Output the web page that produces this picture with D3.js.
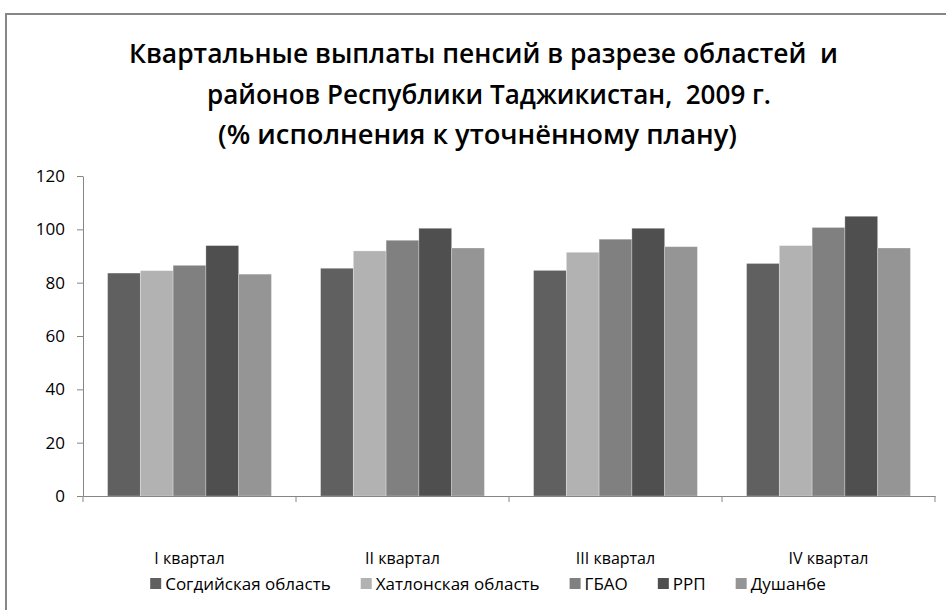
<!DOCTYPE html>
<html><head><meta charset="utf-8">
<script src="https://cdn.jsdelivr.net/npm/d3@7"></script>
<style>body{margin:0;background:#fff}svg{display:block}text{font-family:"Open Sans",sans-serif;fill:#000}</style>
</head><body><svg id="c" width="946" height="610"></svg>
<script>
const categories = ["I квартал", "II квартал", "III квартал", "IV квартал"];
const seriesNames = ["Согдийская область", "Хатлонская область", "ГБАО", "РРП", "Душанбе"];
const seriesColors = ["#606060", "#b2b2b2", "#808080", "#4f4f4f", "#959595"];
const sogd     = [83.6, 85.4, 84.6, 87.2];
const khatlon  = [84.5, 91.9, 91.4, 93.9];
const gbao     = [86.5, 95.9, 96.3, 100.7];
const rrp      = [93.9, 100.4, 100.4, 104.9];
const dushanbe = [83.2, 93.0, 93.5, 93.0];
const yTicks = [0, 20, 40, 60, 80, 100, 120];
const titleLines = ["Квартальные выплаты пенсий в разрезе областей  и", "районов Республики Таджикистан,  2009 г.", "(% исполнения к уточнённому плану)"];

const values = [sogd, khatlon, gbao, rrp, dushanbe];
const svg = d3.select("#c");

// frame
svg.append("rect").attr("x", 6).attr("y", 14).attr("width", 1000).attr("height", 1000)
  .attr("fill", "none").attr("stroke", "#878787").attr("stroke-width", 2);

// title
const titleX = [129, 207, 218], titleW = [709, 564, 519], titleY = [63, 104, 144];
titleLines.forEach((t, i) => {
  svg.append("text").attr("x", titleX[i]).attr("y", titleY[i])
    .attr("font-size", 27.5).attr("font-weight", 600)
    .attr("textLength", titleW[i]).attr("lengthAdjust", "spacingAndGlyphs")
    .style("white-space", "pre").text(t);
});

const pLeft = 83, pRight = 935, pTop = 176, pBottom = 496;
const x0 = d3.scaleBand().domain(categories).range([pLeft, pRight]).paddingInner(0).paddingOuter(0);
const x1 = d3.scaleBand().domain(seriesNames).range([0, x0.bandwidth()]).paddingInner(0).paddingOuter(0.75);
const y = d3.scaleLinear().domain([0, 120]).range([pBottom, pTop]);

// bars
const g = svg.append("g");
categories.forEach((c, ci) => {
  seriesNames.forEach((s, si) => {
    const v = values[si][ci];
    g.append("rect").attr("x", x0(c) + x1(s)).attr("y", y(v))
      .attr("width", x1.bandwidth()).attr("height", y(0) - y(v))
      .attr("fill", seriesColors[si]).attr("stroke", "rgba(255,255,255,0.35)").attr("stroke-width", 0.8);
  });
});

// y axis
const ya = svg.append("g").attr("transform", `translate(${pLeft},0)`)
  .call(d3.axisLeft(y).tickValues(yTicks).tickSize(6).tickSizeOuter(0).tickPadding(12));
ya.select(".domain").attr("stroke", "#868686");
ya.selectAll(".tick line").attr("stroke", "#868686");
ya.selectAll(".tick text").attr("font-size", 17).attr("font-family", "Open Sans").attr("fill", "#000");

// x axis
const xa = svg.append("g").attr("transform", `translate(0,${pBottom})`)
  .call(d3.axisBottom(x0).tickSize(0).tickPadding(57));
xa.select(".domain").attr("stroke", "#868686");
xa.selectAll(".tick text").attr("font-size", 16).attr("font-family", "Open Sans").attr("fill", "#000");
const bounds = categories.map(c => x0(c)).concat([pRight]);
svg.append("g").selectAll("line").data(bounds).join("line")
  .attr("x1", d => d).attr("x2", d => d).attr("y1", pBottom).attr("y2", pBottom + 6)
  .attr("stroke", "#868686");

// legend
const lg = svg.append("g");
const legY = 584;
let lx = 0;
seriesNames.forEach((s, i) => {
  const it = lg.append("g").attr("transform", `translate(${lx},0)`);
  it.append("rect").attr("x", 0).attr("y", legY - 6).attr("width", 11).attr("height", 11).attr("fill", seriesColors[i]);
  const t = it.append("text").attr("x", 15).attr("y", legY).attr("dy", "0.35em").attr("font-size", 17).text(s);
  lx += 15 + t.node().getComputedTextLength() + 30;
});
const totalW = lx - 30;
lg.attr("transform", `translate(${488 - totalW / 2},0)`);
</script></body></html>
